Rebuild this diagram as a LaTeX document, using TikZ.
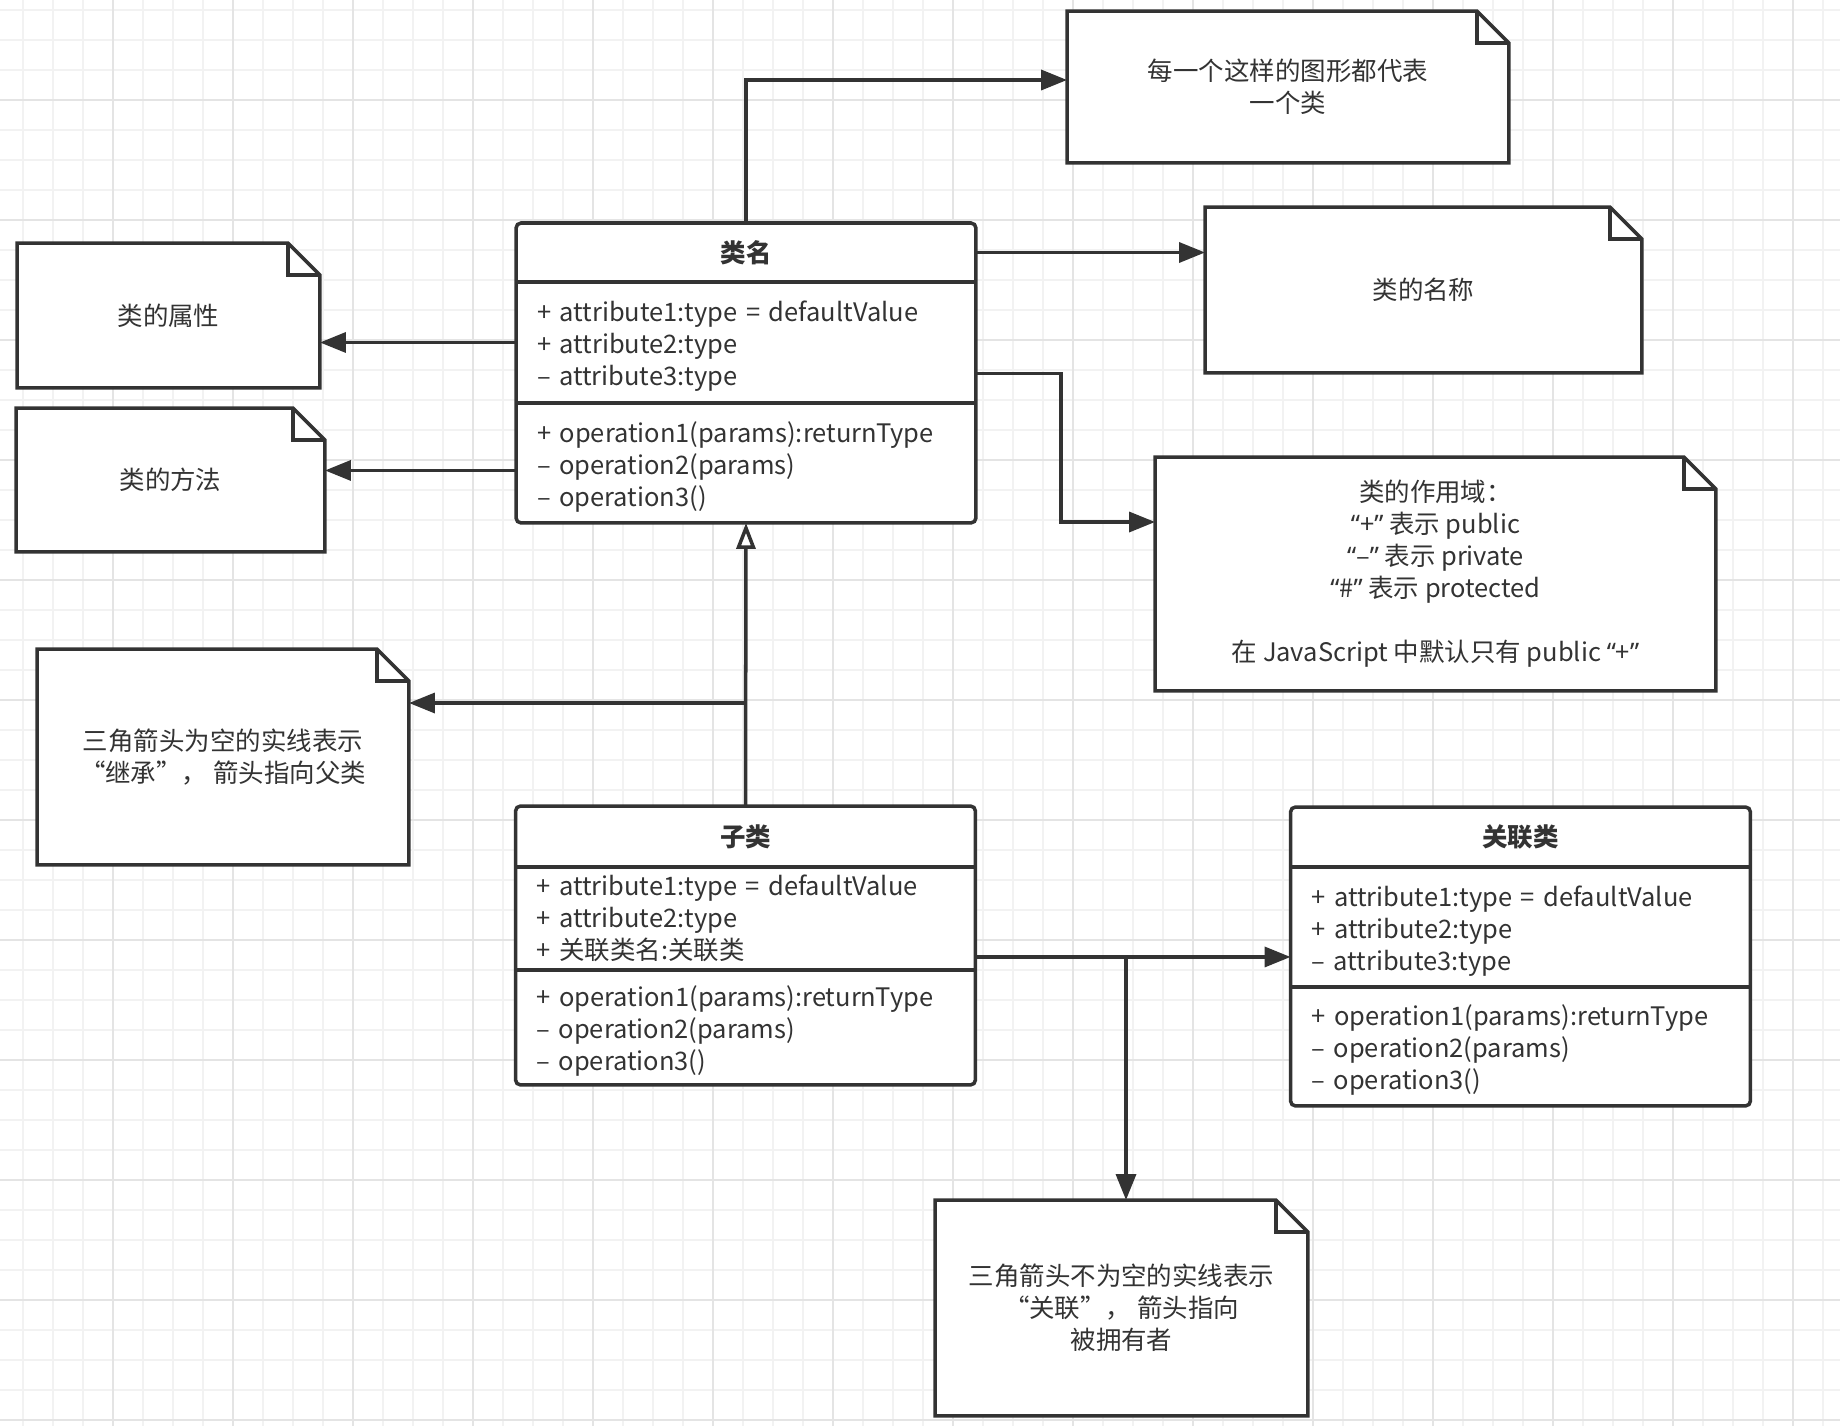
\documentclass[tikz,border=0pt]{standalone}
\usepackage{fontspec}
\setmainfont{Noto Sans CJK SC}
\newfontfamily\quotefont{Noto Sans}
\usetikzlibrary{positioning,arrows.meta}

\definecolor{inkgray}{HTML}{333333}
\definecolor{minorgray}{HTML}{F2F2F2}
\definecolor{majorgray}{HTML}{E4E4E4}

\pgfdeclarelayer{gridlayer}
\pgfdeclarelayer{boxlayer}
\pgfsetlayers{gridlayer,boxlayer,main}

\newcommand\quoted[1]{{\quotefont “}#1{\quotefont ”}}

\tikzset{
  umlfont/.style={font=\fontsize{14.5}{18.2}\selectfont, text=inkgray},
  classtitle/.style={umlfont, font=\fontsize{14.5}{18.2}\selectfont\bfseries,
    minimum width=9.2cm, inner sep=0pt, outer sep=0pt},
  classpart/.style={umlfont, text width=8.36cm, inner xsep=0.42cm, inner ysep=0pt,
    outer sep=0pt, align=left},
  droptext/.style={execute at begin node={\rule{0pt}{16pt}}},
  memo/.style={umlfont, align=center, inner sep=0pt, outer sep=0pt},
  boxline/.style={draw=inkgray, line width=2pt, fill=white},
  assocarrow/.style={draw=inkgray, line width=2pt, -{Triangle[length=0.52cm,width=0.4cm]}},
  extends/.style={draw=inkgray, line width=2pt, -{Triangle[open,length=0.52cm,width=0.38cm,fill=white]}},
}

% folded-corner frame behind a note node
\newcommand\noteframe[1]{%
  \begin{pgfonlayer}{boxlayer}
    \draw[boxline] (#1.south west) -- (#1.north west) -- ([xshift=-0.64cm]#1.north east)
      -- ([yshift=-0.64cm]#1.north east) -- (#1.south east) -- cycle;
    \draw[boxline, fill=none] ([xshift=-0.64cm]#1.north east) |- ([yshift=-0.64cm]#1.north east);
  \end{pgfonlayer}}

% class box: title, attributes, operations
\newcommand\classframe[3]{%
  \begin{pgfonlayer}{boxlayer}
    \draw[boxline, rounded corners=0.1cm] (#1.north west) rectangle (#3.south east);
  \end{pgfonlayer}
  \draw[boxline, fill=none] (#2.north west) -- (#2.north east) (#3.north west) -- (#3.north east);}

\begin{document}
\begin{tikzpicture}[x=0.02cm, y=-0.02cm]
\useasboundingbox (0,0) rectangle (1840,1426);

% background grid
\begin{pgfonlayer}{gridlayer}
  \fill[white] (0,0) rectangle (1840,1426);
  \foreach \gx in {23,53,...,1840} \draw[minorgray, line width=0.6pt] (\gx,0) -- (\gx,1426);
  \foreach \gy in {10,40,...,1426} \draw[minorgray, line width=0.6pt] (0,\gy) -- (1840,\gy);
  \foreach \gx in {113,233,...,1840} \draw[majorgray, line width=0.7pt] (\gx,0) -- (\gx,1426);
  \foreach \gy in {100,220,...,1426} \draw[majorgray, line width=0.7pt] (0,\gy) -- (1840,\gy);
\end{pgfonlayer}

% classes
\node[classtitle, minimum height=1.18cm] (basetitle) at (746,252.5) {类名};
\node[classpart, droptext, minimum height=2.42cm, below=0pt of basetitle] (baseattr)
  {+ attribute1:type = defaultValue\\+ attribute2:type\\– attribute3:type};
\node[classpart, droptext, minimum height=2.4cm, below=0pt of baseattr] (baseops)
  {+ operation1(params):returnType\\– operation2(params)\\– operation3()};
\classframe{basetitle}{baseattr}{baseops}

\node[classtitle, minimum height=1.22cm] (childtitle) at (745.5,836.5) {子类};
\node[classpart, minimum height=2.06cm, below=0pt of childtitle] (childattr)
  {+ attribute1:type = defaultValue\\+ attribute2:type\\+ 关联类名:关联类};
\node[classpart, droptext, minimum height=2.3cm, below=0pt of childattr] (childops)
  {+ operation1(params):returnType\\– operation2(params)\\– operation3()};
\classframe{childtitle}{childattr}{childops}

\node[classtitle, minimum height=1.2cm] (assoctitle) at (1520.5,837) {关联类};
\node[classpart, droptext, minimum height=2.4cm, below=0pt of assoctitle] (assocattr)
  {+ attribute1:type = defaultValue\\+ attribute2:type\\– attribute3:type};
\node[classpart, droptext, minimum height=2.38cm, below=0pt of assocattr] (assocops)
  {+ operation1(params):returnType\\– operation2(params)\\– operation3()};
\classframe{assoctitle}{assocattr}{assocops}

% notes
\node[memo, minimum width=8.84cm, minimum height=3.04cm] (noteclass) at (1288,87)
  {每一个这样的图形都代表\\一个类};
\node[memo, minimum width=8.74cm, minimum height=3.32cm] (notename) at (1423.5,290) {类的名称};
\node[memo, minimum width=6.06cm, minimum height=2.9cm] (noteattr) at (168.5,315.5) {类的属性};
\node[memo, minimum width=6.18cm, minimum height=2.88cm] (noteops) at (170.5,480) {类的方法};
\node[memo, minimum width=11.22cm, minimum height=4.68cm] (notescope) at (1435.5,574)
  {类的作用域：\\\quoted{+} 表示 public\\\quoted{–} 表示 private\\\quoted{\#} 表示 protected\\[18.2pt]在 JavaScript 中默认只有 public \quoted{+}};
\node[memo, minimum width=7.44cm, minimum height=4.32cm] (noteinherit) at (223,757)
  {三角箭头为空的实线表示\\“继承”， 箭头指向父类};
\node[memo, minimum width=7.46cm, minimum height=4.32cm] (noteassoc) at (1121.5,1308)
  {三角箭头不为空的实线表示\\“关联”， 箭头指向\\被拥有者};
\foreach \n in {noteclass,notename,noteattr,noteops,notescope,noteinherit,noteassoc}
  \noteframe{\n};

% connectors
\draw[assocarrow] (basetitle.north) |- ([yshift=0.14cm]noteclass.west);
\draw[assocarrow] (basetitle.east) -- (basetitle.east -| notename.west);
\draw[assocarrow] (baseattr.west) -- (baseattr.west -| noteattr.east);
\draw[assocarrow] ([yshift=-0.15cm]baseops.west) -- ([yshift=-0.15cm]baseops.west -| noteops.east);
\coordinate (scopebend) at (1061,522);
\draw[assocarrow] ([yshift=-0.62cm]baseattr.east) -| (scopebend) -- (scopebend -| notescope.west);

\coordinate (inheritfork) at (746,703);
\draw[extends] (childtitle.north) -- (baseops.south);
\draw[assocarrow] (inheritfork) -- (inheritfork -| noteinherit.east);

\coordinate (assocstart) at ([yshift=-0.77cm]childattr.east);
\coordinate (assocfork) at (1126,957);
\draw[assocarrow] (assocstart) -- (assocstart -| assocattr.west);
\draw[assocarrow] (assocfork) -- (assocfork |- noteassoc.north);
\end{tikzpicture}
\end{document}
